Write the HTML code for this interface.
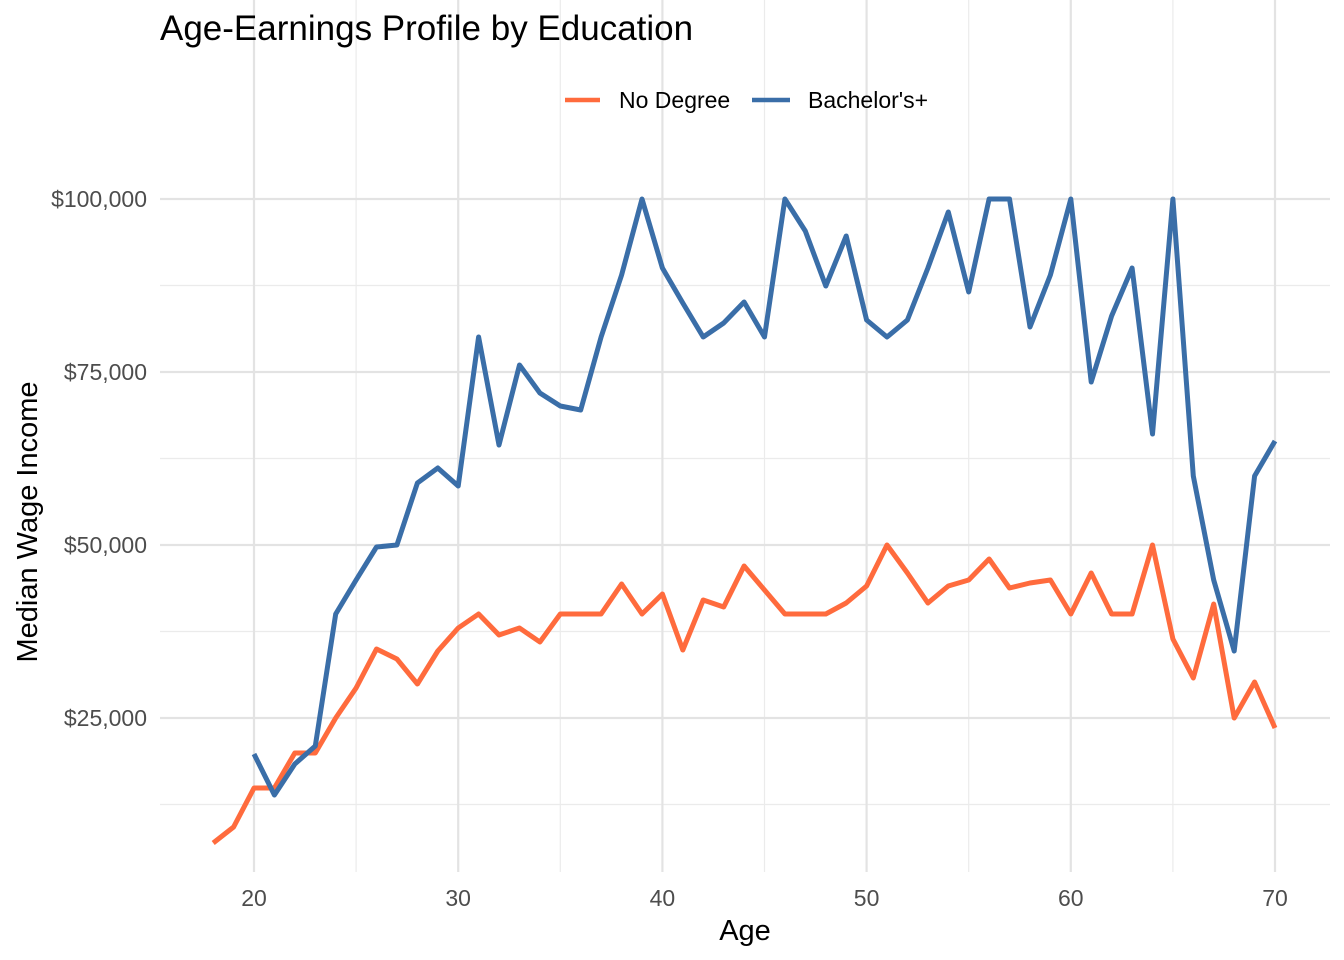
<!DOCTYPE html>
<html><head><meta charset="utf-8">
<style>
html,body{margin:0;padding:0;background:#fff;}
svg{display:block;font-family:"Liberation Sans",Arial,sans-serif;}
</style></head>
<body>
<svg id="s" width="1344" height="960" viewBox="0 0 1344 960" xmlns="http://www.w3.org/2000/svg">
<rect width="1344" height="960" fill="#fff"/>
<g id="grid"></g>
<text x="160" y="40" font-size="35" fill="#000">Age-Earnings Profile by Education</text>
<line x1="565" y1="100" x2="600" y2="100" stroke="#FF6B3D" stroke-width="4.5"/>
<text x="619" y="108" font-size="23" fill="#000">No Degree</text>
<line x1="752" y1="100" x2="790" y2="100" stroke="#3A6EA8" stroke-width="4.5"/>
<text x="808" y="108" font-size="23" fill="#000">Bachelor's+</text>
<text x="745" y="940" font-size="29" text-anchor="middle" fill="#000">Age</text>
<text transform="translate(37,522) rotate(-90)" font-size="29" text-anchor="middle" fill="#000">Median Wage Income</text>
<g id="lines"></g>
</svg>
<script>
var NS="http://www.w3.org/2000/svg";
function X(a){return 254+(a-20)*20.42;}
function Y(v){return 199+(100000-v)*173/25000;}
var g=document.getElementById('grid'),L=document.getElementById('lines');
function ln(p,x1,y1,x2,y2,c,w){var e=document.createElementNS(NS,'line');e.setAttribute('x1',x1);e.setAttribute('y1',y1);e.setAttribute('x2',x2);e.setAttribute('y2',y2);e.setAttribute('stroke',c);e.setAttribute('stroke-width',w);p.appendChild(e);}
function tx(p,x,y,t,a){var e=document.createElementNS(NS,'text');e.setAttribute('x',x);e.setAttribute('y',y);e.setAttribute('font-size','23');e.setAttribute('fill','#4d4d4d');e.setAttribute('text-anchor',a);e.textContent=t;p.appendChild(e);}
var top=150,bot=872,left=160,right=1330;
[12500,37500,62500,87500].forEach(function(v){ln(g,left,Y(v),right,Y(v),'#ebebeb',1.2);});
[25,35,45,55,65].forEach(function(a){ln(g,X(a),top,X(a),bot,'#ebebeb',1.2);});
[25000,50000,75000,100000].forEach(function(v){ln(g,left,Y(v),right,Y(v),'#e3e3e3',2.2);tx(g,147,Y(v)+8,'$'+v.toLocaleString('en-US'),'end');});
[20,30,40,50,60,70].forEach(function(a){ln(g,X(a),top,X(a),bot,'#e3e3e3',2.2);tx(g,X(a),906,String(a),'middle');});
var nd=[843,827,788,788,753,753,718,688,649,659,684,651,628,614,635,628,642,614,614,614,584,614,594,650,600,607,566,590,614,614,614,603,586,545,573,603,586,580,559,588,583,580,614,573,614,614,545,639,678,604,718,682,728];
var ba=[754,795,764,746,614,580,547,545,483,468,486,337,445,365,393,406,410,337,275,199,268,303,337,323,302,337,199,231,286,236,320,337,320,268,212,292,199,199,327,275,199,382,316,268,434,199,476,580,651,476,441];
function pl(arr,start,c){var p=arr.map(function(y,i){return X(start+i).toFixed(1)+','+y;}).join(' ');var e=document.createElementNS(NS,'polyline');e.setAttribute('points',p);e.setAttribute('fill','none');e.setAttribute('stroke',c);e.setAttribute('stroke-width','5');e.setAttribute('stroke-linejoin','round');L.appendChild(e);}
pl(nd,18,'#FF6B3D');pl(ba,20,'#3A6EA8');
</script>
</body></html>
